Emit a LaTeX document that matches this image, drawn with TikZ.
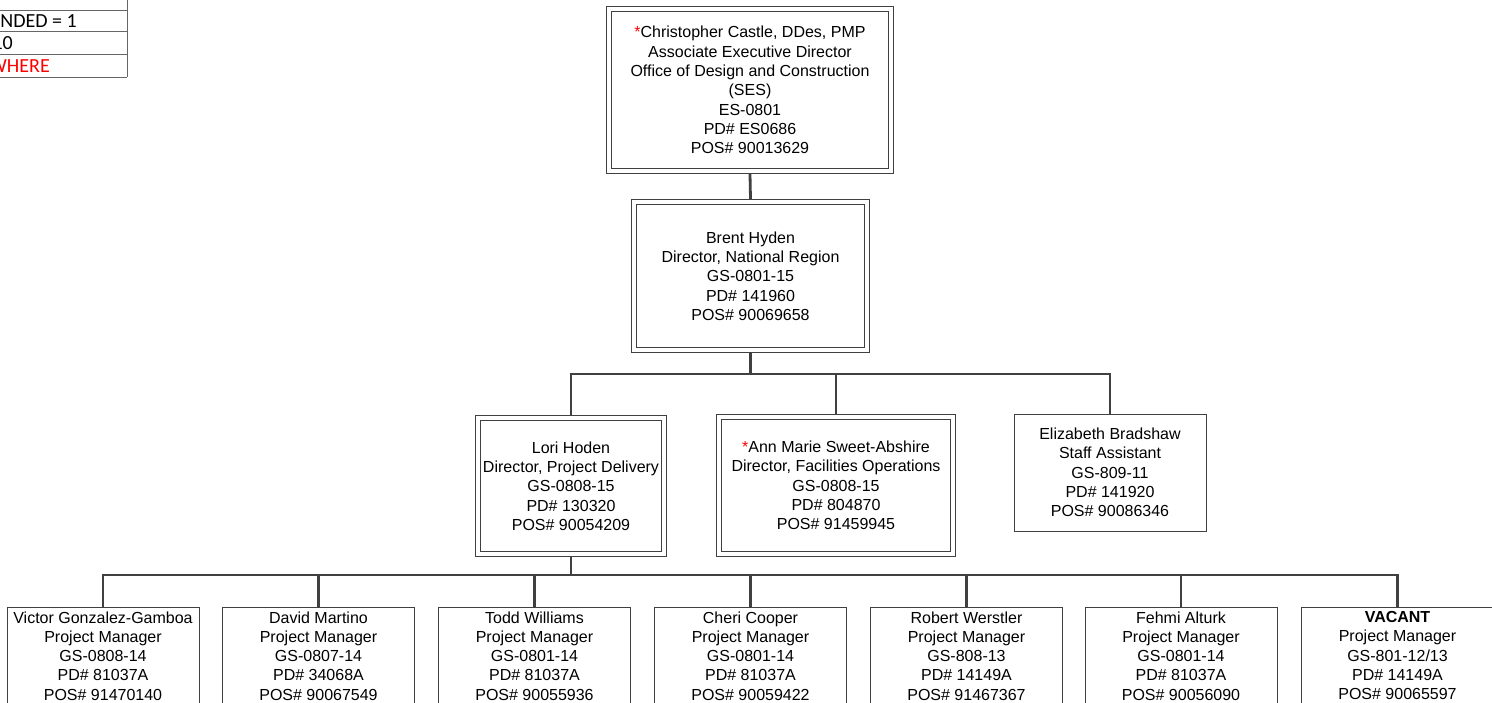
\documentclass[tikz,border=0pt]{standalone}
\usepackage{fontspec}
\setmainfont{Liberation Sans}
\newfontfamily\calibri{Carlito}
\usepackage{tikz}
\usetikzlibrary{calc}

\begin{document}
\begin{tikzpicture}[x=1pt,y=-1pt,
  every node/.style={font=\fontsize{16}{19.3}\selectfont, align=center, inner sep=0pt},
  box/.style={draw=black!75, line width=0.9pt},
  dbox/.style={box, double, double distance=4pt, outer sep=3pt},
  pmbox/.style={box, anchor=north, minimum width=192, inner ysep=4pt, text depth=100pt},
  link/.style={draw=black!75, line width=2.8pt},
  tabline/.style={draw=black!60, line width=1pt},
  tabtext/.style={anchor=base east, font=\calibri\fontsize{20}{23}\selectfont}]
\useasboundingbox (0,0) rectangle (1492,702);
\clip (0,0) rectangle (1492,702);

% cut-off table at the top left
\draw[tabline] (127,0) -- (127,77);
\foreach \y in {10,31,54,77}
  \draw[tabline] (0,\y) -- (127,\y);
\node[tabtext] (tabA) at (77,27) {NDED = 1};
\node[tabtext] (tabB) at (13,49) {10};
\node[tabtext, text=red] (tabC) at (50,72) {WHERE};

% boxes
\node[dbox, minimum width=282, minimum height=162] (chief) at (750,90) {
{\color{red}*}Christopher Castle, DDes, PMP\\
Associate Executive Director\\
Office of Design and Construction\\
(SES)\\
ES-0801\\
PD\# ES0686\\
POS\# 90013629};
\node[dbox, minimum width=233, minimum height=148] (brent) at (750.5,276) {
Brent Hyden\\
Director, National Region\\
GS-0801-15\\
PD\# 141960\\
POS\# 90069658};
\node[dbox, minimum width=186, minimum height=136] (lori) at (571,486) {
Lori Hoden\\
Director, Project Delivery\\
GS-0808-15\\
PD\# 130320\\
POS\# 90054209};
\node[dbox, minimum width=234, minimum height=137] (ann) at (836,485.5) {
{\color{red}*}Ann Marie Sweet-Abshire\\
Director, Facilities Operations\\
GS-0808-15\\
PD\# 804870\\
POS\# 91459945};
\node[box, minimum width=192, minimum height=117] (liz) at (1110,472.5) {
Elizabeth Bradshaw\\
Staff Assistant\\
GS-809-11\\
PD\# 141920\\
POS\# 90086346};

\node[pmbox] (pm1) at (103,607) {
Victor Gonzalez-Gamboa\\
Project Manager\\
GS-0808-14\\
PD\# 81037A\\
POS\# 91470140};
\node[pmbox] (pm2) at (318.5,607) {
David Martino\\
Project Manager\\
GS-0807-14\\
PD\# 34068A\\
POS\# 90067549};
\node[pmbox] (pm3) at (534.5,607) {
Todd Williams\\
Project Manager\\
GS-0801-14\\
PD\# 81037A\\
POS\# 90055936};
\node[pmbox] (pm4) at (750.5,607) {
Cheri Cooper\\
Project Manager\\
GS-0801-14\\
PD\# 81037A\\
POS\# 90059422};
\node[pmbox] (pm5) at (966.5,607) {
Robert Werstler\\
Project Manager\\
GS-808-13\\
PD\# 14149A\\
POS\# 91467367};
\node[pmbox] (pm6) at (1181,607) {
Fehmi Alturk\\
Project Manager\\
GS-0801-14\\
PD\# 81037A\\
POS\# 90056090};
\node[pmbox] (pm7) at (1397.5,607) {
\textbf{VACANT}\\
Project Manager\\
GS-801-12/13\\
PD\# 14149A\\
POS\# 90065597};

% connectors
\draw[link] (chief.south) -- (brent.north);
\foreach \n in {lori,ann,liz}
  \draw[link] (brent.south) -- ++(0,21) -| (\n.north);
\foreach \n in {pm1,pm2,pm3,pm4,pm5,pm6,pm7}
  \draw[link] (lori.south) -- ++(0,18) -| (\n.north);
\end{tikzpicture}
\end{document}
